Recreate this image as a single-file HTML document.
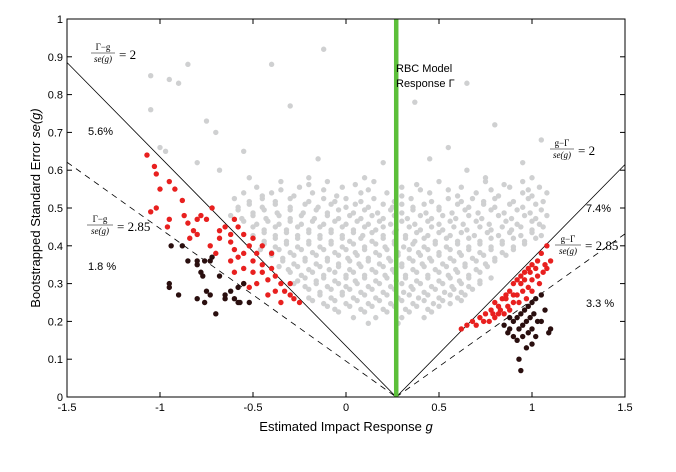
<!DOCTYPE html>
<html><head><meta charset="utf-8"><style>
body{margin:0;background:#fff;width:676px;height:472px;overflow:hidden}
svg{display:block;font-family:"Liberation Sans",sans-serif}
.m{font-family:"Liberation Serif",serif}
</style></head><body>
<svg id="chart" width="676" height="472" viewBox="0 0 676 472">
<g id="marks"></g>
<g id="axes"></g>
<text x="396" y="72" font-size="11">RBC Model</text>
<text x="396" y="87" font-size="11">Response Γ</text>
<g class="m">
<text x="103" y="50" font-size="9" text-anchor="middle">Γ−g</text>
<line x1="91" y1="53" x2="115" y2="53" stroke="#000" stroke-width="0.6"/>
<text x="103" y="62" font-size="9" text-anchor="middle" font-style="italic">se(g)</text>
<text x="119" y="59" font-size="13">= 2</text></g>
<g class="m">
<text x="100" y="222" font-size="9" text-anchor="middle">Γ−g</text>
<line x1="87" y1="225" x2="113" y2="225" stroke="#000" stroke-width="0.6"/>
<text x="100" y="234" font-size="9" text-anchor="middle" font-style="italic">se(g)</text>
<text x="117" y="231" font-size="13">= 2.85</text></g>
<g class="m">
<text x="562" y="146" font-size="9" text-anchor="middle">g−Γ</text>
<line x1="550" y1="149" x2="574" y2="149" stroke="#000" stroke-width="0.6"/>
<text x="562" y="158" font-size="9" text-anchor="middle" font-style="italic">se(g)</text>
<text x="578" y="155" font-size="13">= 2</text></g>
<g class="m">
<text x="568" y="242" font-size="9" text-anchor="middle">g−Γ</text>
<line x1="555" y1="245" x2="581" y2="245" stroke="#000" stroke-width="0.6"/>
<text x="568" y="254" font-size="9" text-anchor="middle" font-style="italic">se(g)</text>
<text x="585" y="250" font-size="13">= 2.85</text></g>
<text x="88" y="135" font-size="11">5.6%</text>
<text x="88" y="270" font-size="11">1.8 %</text>
<text x="586" y="212" font-size="11">7.4%</text>
<text x="586" y="307" font-size="11">3.3 %</text>
<text x="346" y="431" font-size="13" text-anchor="middle">Estimated Impact Response <tspan font-style="italic">g</tspan></text>
<text transform="translate(40,208) rotate(-90)" font-size="13" text-anchor="middle">Bootstrapped Standard Error <tspan font-style="italic">se(g)</tspan></text>
</svg>
<script>
const xTicks=[-1.5,-1,-0.5,0,0.5,1,1.5];
const xTickLabels=["-1.5","-1","-0.5","0","0.5","1","1.5"];
const yTicks=[0,0.1,0.2,0.3,0.4,0.5,0.6,0.7,0.8,0.9,1];
const yTickLabels=["0","0.1","0.2","0.3","0.4","0.5","0.6","0.7","0.8","0.9","1"];
const gammaValue=0.27;
const thresholds=[2,2.85];
const grayOutliers=[[-1.05,0.85],[-1.05,0.76],[-0.95,0.84],[-0.9,0.83],[-0.85,0.88],[-0.75,0.73],[-0.7,0.7],[-0.4,0.88],[-0.12,0.92],[0.37,0.78],[0.65,0.83],[-0.3,0.77],[0.2,0.62],[-0.15,0.63],[0.8,0.72],[1.05,0.68],[0.95,0.62],[0.55,0.66],[-0.55,0.65],[-0.2,0.58],[-1.0,0.66],[-0.97,0.65],[-0.8,0.62],[-0.68,0.6],[-0.52,0.58],[0.65,0.6],[1.0,0.58],[0.75,0.58],[0.1,0.58],[0.45,0.63]];
const grayRowY=[0.57,0.555,0.54,0.525,0.51,0.495,0.48,0.465,0.45,0.435,0.42,0.405,0.39,0.375,0.36,0.345,0.33,0.315,0.3,0.285,0.27,0.255,0.24,0.225,0.21,0.195];
const grayRowX=[
[-0.35,-0.1,0.15,0.5,0.75,0.95],
[-0.48,-0.25,-0.02,0.3,0.62,0.88,1.04],
[-0.55,-0.4,-0.18,0.08,0.22,0.45,0.7,0.95,1.08],
[-0.6,-0.45,-0.3,-0.12,0.0,0.15,0.35,0.55,0.68,0.8,0.98],
[-0.52,-0.38,-0.22,-0.08,0.05,0.2,0.3,0.42,0.6,0.74,0.88,1.02],
[-0.58,-0.44,-0.3,-0.16,-0.04,0.1,0.24,0.36,0.5,0.64,0.78,0.92,1.05],
[-0.62,-0.5,-0.36,-0.24,-0.1,0.02,0.14,0.26,0.4,0.52,0.66,0.82,0.96,1.08],
[-0.55,-0.42,-0.3,-0.18,-0.06,0.06,0.18,0.3,0.44,0.56,0.7,0.86,1.0],
[-0.5,-0.38,-0.26,-0.14,-0.02,0.1,0.2,0.34,0.46,0.58,0.72,0.84,0.94,1.06],
[-0.44,-0.32,-0.2,-0.08,0.04,0.14,0.26,0.38,0.5,0.62,0.76,0.88,1.0],
[-0.5,-0.38,-0.26,-0.14,-0.02,0.08,0.2,0.32,0.42,0.54,0.66,0.78,0.9,1.02],
[-0.44,-0.32,-0.2,-0.08,0.04,0.16,0.26,0.36,0.48,0.6,0.72,0.84,0.96],
[-0.46,-0.36,-0.24,-0.12,0.0,0.1,0.22,0.34,0.44,0.56,0.66,0.78,0.9],
[-0.4,-0.28,-0.16,-0.04,0.06,0.18,0.28,0.4,0.5,0.62,0.74,0.86],
[-0.34,-0.22,-0.1,0.02,0.12,0.24,0.36,0.46,0.58,0.7,0.8],
[-0.36,-0.26,-0.14,-0.04,0.08,0.2,0.3,0.42,0.54,0.64,0.76],
[-0.3,-0.18,-0.06,0.04,0.16,0.26,0.38,0.5,0.6,0.72],
[-0.22,-0.12,0.0,0.1,0.22,0.32,0.44,0.56,0.66,0.78],
[-0.28,-0.16,-0.04,0.06,0.18,0.3,0.4,0.52,0.62,0.72],
[-0.2,-0.08,0.02,0.14,0.26,0.36,0.48,0.58,0.68],
[-0.14,-0.02,0.1,0.22,0.34,0.44,0.56,0.64],
[-0.18,-0.06,0.06,0.18,0.3,0.42,0.52,0.62],
[-0.1,0.02,0.14,0.26,0.38,0.5],
[-0.04,0.1,0.22,0.34,0.46],
[0.04,0.16,0.3,0.42],
[0.12,0.28]];
const grayRowY2=[0.562,0.548,0.532,0.517,0.502,0.487,0.472,0.457,0.442,0.427,0.412,0.397,0.382,0.367,0.352,0.337,0.322,0.307,0.292,0.277,0.262,0.247,0.232];
const grayRowX2=[
[-0.2,0.05,0.38,0.85],
[-0.35,-0.12,0.12,0.4,0.55,0.78,0.98],
[-0.45,-0.28,-0.05,0.3,0.6,0.82,1.0],
[-0.52,-0.38,-0.2,-0.06,0.08,0.26,0.46,0.62,0.74,0.9,1.06],
[-0.58,-0.45,-0.3,-0.15,0.0,0.12,0.25,0.36,0.5,0.66,0.8,0.95],
[-0.5,-0.37,-0.23,-0.1,0.04,0.17,0.3,0.43,0.57,0.71,0.85,0.99],
[-0.56,-0.43,-0.3,-0.17,-0.04,0.08,0.2,0.33,0.46,0.59,0.73,0.89,1.02],
[-0.48,-0.36,-0.24,-0.12,0.0,0.12,0.24,0.37,0.5,0.63,0.77,0.92,1.04],
[-0.44,-0.32,-0.2,-0.08,0.04,0.16,0.27,0.4,0.52,0.65,0.78,0.89,1.0],
[-0.5,-0.38,-0.26,-0.14,-0.02,0.09,0.2,0.32,0.44,0.56,0.69,0.82,0.94,1.05],
[-0.44,-0.32,-0.2,-0.08,0.02,0.14,0.26,0.37,0.48,0.6,0.72,0.84,0.96],
[-0.38,-0.26,-0.14,-0.02,0.1,0.21,0.31,0.42,0.54,0.66,0.78,0.9],
[-0.4,-0.3,-0.18,-0.06,0.05,0.16,0.28,0.39,0.5,0.61,0.72,0.84],
[-0.34,-0.22,-0.1,0.01,0.12,0.23,0.34,0.45,0.56,0.68,0.8],
[-0.28,-0.16,-0.04,0.07,0.18,0.3,0.41,0.52,0.64,0.75],
[-0.31,-0.2,-0.09,0.02,0.14,0.25,0.36,0.48,0.59,0.7],
[-0.24,-0.12,0.0,0.1,0.21,0.32,0.44,0.55,0.66],
[-0.26,-0.16,-0.06,0.05,0.16,0.27,0.38,0.5,0.61,0.72],
[-0.22,-0.1,0.0,0.12,0.24,0.35,0.46,0.57,0.66],
[-0.14,-0.02,0.08,0.2,0.31,0.42,0.53,0.62],
[-0.2,-0.08,0.04,0.16,0.28,0.39,0.5,0.6],
[-0.12,0.0,0.12,0.24,0.36,0.47,0.56],
[-0.06,0.08,0.2,0.32,0.44]];
const redPoints=[[-1.07,0.64],[-1.03,0.61],[-1.02,0.59],[-1.0,0.55],[-0.95,0.57],[-0.92,0.55],[-0.88,0.52],[-1.05,0.49],[-1.02,0.5],[-0.95,0.47],[-0.96,0.45],[-0.87,0.48],[-0.85,0.46],[-0.8,0.47],[-0.78,0.48],[-0.75,0.47],[-0.72,0.5],[-0.68,0.44],[-0.8,0.43],[-0.82,0.44],[-0.84,0.42],[-0.68,0.42],[-0.6,0.47],[-0.58,0.45],[-0.55,0.43],[-0.62,0.41],[-0.6,0.39],[-0.58,0.37],[-0.62,0.36],[-0.55,0.38],[-0.52,0.4],[-0.5,0.36],[-0.48,0.38],[-0.45,0.35],[-0.45,0.33],[-0.5,0.33],[-0.55,0.34],[-0.6,0.33],[-0.42,0.31],[-0.4,0.34],[-0.38,0.32],[-0.35,0.3],[-0.33,0.28],[-0.3,0.27],[-0.28,0.26],[-0.35,0.25],[-0.42,0.27],[-0.38,0.28],[-0.48,0.3],[-0.52,0.29],[-0.7,0.38],[-0.73,0.4],[-0.65,0.45],[-0.62,0.43],[-0.5,0.42],[-0.4,0.38],[-0.45,0.4],[-0.3,0.3],[-0.25,0.25],[-0.55,0.3],
[0.62,0.18],[0.65,0.19],[0.68,0.2],[0.72,0.21],[0.7,0.19],[0.75,0.22],[0.78,0.23],[0.8,0.25],[0.82,0.24],[0.84,0.26],[0.86,0.27],[0.88,0.28],[0.9,0.3],[0.92,0.31],[0.94,0.32],[0.96,0.33],[0.98,0.34],[1.0,0.35],[1.03,0.36],[1.05,0.38],[1.08,0.4],[1.06,0.33],[1.03,0.32],[1.0,0.31],[0.98,0.29],[0.95,0.28],[0.92,0.27],[0.9,0.25],[0.87,0.24],[0.85,0.22],[0.8,0.21],[0.77,0.2],[0.74,0.2],[0.82,0.22],[0.88,0.23],[0.93,0.25],[0.97,0.26],[1.0,0.28],[1.04,0.3],[1.08,0.34],[1.1,0.36],[0.94,0.3],[0.9,0.27],[0.86,0.26],[0.83,0.23],[0.79,0.22],[0.96,0.31],[1.02,0.34],[1.07,0.35],[0.99,0.33]];
const blackPoints=[[-0.94,0.4],[-0.88,0.4],[-0.85,0.36],[-0.8,0.35],[-0.8,0.36],[-0.76,0.36],[-0.73,0.36],[-0.72,0.37],[-0.78,0.33],[-0.77,0.32],[-0.95,0.29],[-0.9,0.27],[-0.8,0.26],[-0.76,0.25],[-0.73,0.27],[-0.65,0.27],[-0.62,0.28],[-0.6,0.26],[-0.58,0.25],[-0.57,0.25],[-0.52,0.25],[-0.55,0.3],[-0.65,0.26],[-0.7,0.22],[-0.68,0.32],[-0.58,0.29],[-0.95,0.3],[-0.75,0.28],
[0.85,0.19],[0.88,0.18],[0.9,0.2],[0.92,0.21],[0.94,0.22],[0.96,0.23],[0.98,0.24],[1.0,0.25],[1.02,0.26],[1.05,0.27],[0.93,0.18],[0.95,0.19],[0.97,0.2],[0.99,0.21],[1.01,0.22],[1.03,0.2],[0.9,0.16],[0.92,0.15],[0.95,0.16],[0.98,0.17],[1.0,0.18],[1.02,0.16],[0.97,0.13],[1.0,0.14],[1.05,0.2],[1.09,0.17],[1.1,0.18],[0.87,0.17],[0.93,0.1],[0.94,0.07],[0.88,0.21],[1.07,0.23]];

const L=67,R=625,T=19,B=397,xMin=-1.5,xMax=1.5,yMin=0,yMax=1;
const sx=v=>L+(v-xMin)/(xMax-xMin)*(R-L);
const sy=v=>B-(v-yMin)/(yMax-yMin)*(B-T);
const NS="http://www.w3.org/2000/svg";
const marks=document.getElementById('marks'),axes=document.getElementById('axes');
function mk(tag,attrs,parent){const e=document.createElementNS(NS,tag);for(const k in attrs)e.setAttribute(k,attrs[k]);parent.appendChild(e);return e;}
function dot(p,color,name){const c=mk('circle',{cx:sx(p[0]),cy:sy(p[1]),r:2.7,fill:color},marks);

}
grayOutliers.forEach(p=>dot(p,'#cfd0d1','gray-point'));
grayRowY.forEach((y,i)=>grayRowX[i].forEach(x=>dot([x,y],'#cfd0d1','gray-point')));
grayRowY2.forEach((y,i)=>grayRowX2[i].forEach(x=>dot([x,y],'#cfd0d1','gray-point')));
thresholds.forEach((t,i)=>{
 const yl=(gammaValue-xMin)/t, yr=(xMax-gammaValue)/t;
 const a=mk('line',{x1:sx(xMin),y1:sy(yl),x2:sx(gammaValue),y2:sy(0),stroke:'#000','stroke-width':0.8,'stroke-dasharray':i?'6,5':''},marks);
 
 
 const b=mk('line',{x1:sx(gammaValue),y1:sy(0),x2:sx(xMax),y2:sy(yr),stroke:'#000','stroke-width':0.8,'stroke-dasharray':i?'6,5':''},marks);
 
 
});
redPoints.forEach(p=>dot(p,'#e8201f','red-point'));
blackPoints.forEach(p=>dot(p,'#2a0f0f','black-point'));
const g=mk('line',{x1:sx(gammaValue),y1:sy(yMin),x2:sx(gammaValue),y2:sy(yMax),stroke:'#5cbf3a','stroke-width':4.5},marks);


const box=mk('rect',{x:L,y:T,width:R-L,height:B-T,fill:'none',stroke:'#000','stroke-width':1},axes);


xTicks.forEach((v,i)=>{const x=sx(v);
 mk('line',{x1:x,y1:B,x2:x,y2:B-5,stroke:'#000'},axes);mk('line',{x1:x,y1:T,x2:x,y2:T+5,stroke:'#000'},axes);
 const t=mk('text',{x:x,y:B+14,'font-size':11,'text-anchor':'middle'},axes);t.textContent=xTickLabels[i];
 
 });
yTicks.forEach((v,i)=>{const y=sy(v);
 mk('line',{x1:L,y1:y,x2:L+5,y2:y,stroke:'#000'},axes);mk('line',{x1:R,y1:y,x2:R-5,y2:y,stroke:'#000'},axes);
 const t=mk('text',{x:L-4,y:y+4,'font-size':11,'text-anchor':'end'},axes);t.textContent=yTickLabels[i];
 
 });
</script>
</body></html>
